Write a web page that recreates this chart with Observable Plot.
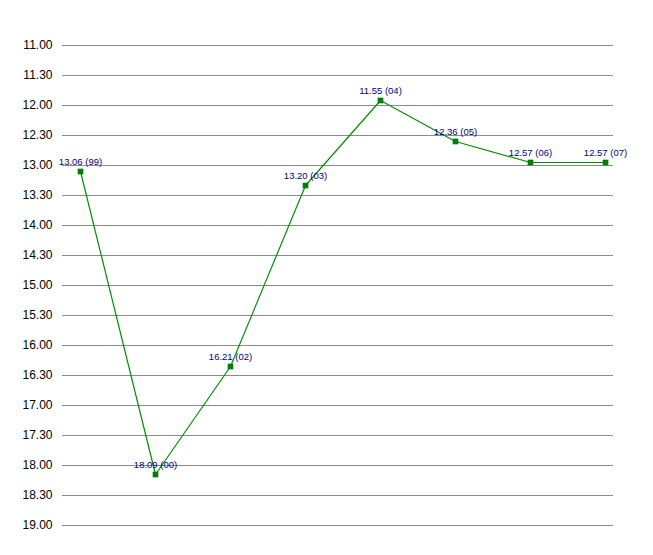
<!DOCTYPE html>
<html>
<head>
<meta charset="utf-8">
<script src="https://cdn.jsdelivr.net/npm/d3@7"></script>
<script src="https://cdn.jsdelivr.net/npm/@observablehq/plot@0.6"></script>
<style>
  html, body { margin: 0; padding: 0; background: #fff; }
</style>
</head>
<body>
<div id="chart"></div>
<script>
// Years (two-digit) and times read as "minutes.seconds"
const years = ["99", "00", "02", "03", "04", "05", "06", "07"];
const times = ["13.06", "18.09", "16.21", "13.20", "11.55", "12.36", "12.57", "12.57"];
const yTicks = [11, 11.5, 12, 12.5, 13, 13.5, 14, 14.5, 15, 15.5, 16, 16.5, 17, 17.5, 18, 18.5, 19];

const toMinutes = s => { const [m, sec] = s.split("."); return +m + (+sec) / 60; };
const fmt = d => { const m = Math.floor(d + 1e-9); const s = Math.round((d - m) * 60); return m + "." + String(s).padStart(2, "0"); };

const data = years.map((y, i) => ({year: y, time: times[i], value: toMinutes(times[i])}));

const font = "'Liberation Sans Narrow', 'Liberation Sans', Arial, sans-serif";

const chart = Plot.plot({
  width: 653,
  height: 555,
  marginTop: 45,
  marginBottom: 30,
  marginLeft: 62,
  marginRight: 40,
  style: {fontFamily: font, background: "#fff"},
  x: {type: "point", domain: years, insetLeft: 18, insetRight: 8, padding: 0, axis: null},
  y: {domain: [19, 11], range: [525, 45], label: null},
  marks: [
    Plot.gridY(yTicks, {stroke: "#8c8c8c", strokeOpacity: 1, strokeWidth: 1}),
    Plot.axisY(yTicks, {tickSize: 0, tickPadding: 10, tickFormat: fmt, fontSize: 12, fill: "#000", label: null}),
    Plot.line(data, {x: "year", y: "value", stroke: "#009000", strokeWidth: 1.2}),
    Plot.dot(data, {x: "year", y: "value", symbol: "square", r: 3.2, fill: "#008000", stroke: "none"}),
    Plot.text(data, {x: "year", y: "value", text: d => `${d.time} (${d.year})`, dy: -10, fill: "#000080", fontSize: 9.5, fontFamily: font})
  ]
});
document.getElementById("chart").appendChild(chart);
</script>
</body>
</html>
